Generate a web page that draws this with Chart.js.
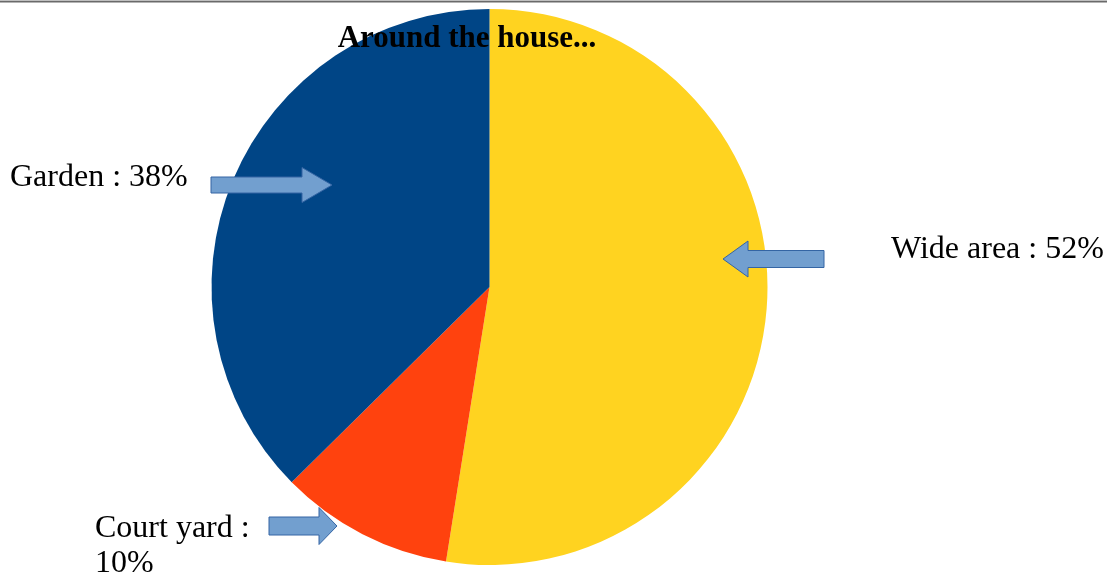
<!DOCTYPE html>
<html>
<head>
<meta charset="utf-8">
<script src="https://cdn.jsdelivr.net/npm/chart.js@4/dist/chart.umd.min.js"></script>
<style>
  html, body { margin: 0; padding: 0; background: #fff; }
  #wrap { width: 1107px; height: 576px; position: relative; }
</style>
</head>
<body>
<div id="wrap"><canvas id="houseChart" width="1107" height="576"></canvas></div>
<script>
// slices, clockwise from 12 o'clock (sizes, labels show rounded %)
const categories = ['Wide area', 'Court yard', 'Garden'];
const shares = [52.5, 10.1, 37.4];
const sliceColors = ['#ffd320', '#ff420e', '#004586'];
const chartTitle = 'Around the house...';

// callout text, one entry per slice (lines)
const calloutLines = [
    ['Wide area : 52%'],
    ['Court yard :', '10%'],
    ['Garden : 38%']
];

// callout placement: text anchor + block arrow (tip, direction)
const callouts = [
    { tx: 891, ty: 258, tipX: 723, tipY: 259, tailX: 824, headLen: 25, bodyH: 17, headH: 36 },
    { tx: 95, ty: 537, tipX: 337, tipY: 526, tailX: 269, headLen: 18, bodyH: 18, headH: 37 },
    { tx: 10, ty: 186, tipX: 332, tipY: 185, tailX: 211, headLen: 30, bodyH: 16, headH: 35 }
];

function blockArrow(ctx, c) {
    const dir = c.tipX > c.tailX ? 1 : -1;
    const baseX = c.tipX - dir * c.headLen;
    ctx.beginPath();
    ctx.moveTo(c.tailX, c.tipY - c.bodyH / 2);
    ctx.lineTo(baseX, c.tipY - c.bodyH / 2);
    ctx.lineTo(baseX, c.tipY - c.headH / 2);
    ctx.lineTo(c.tipX, c.tipY);
    ctx.lineTo(baseX, c.tipY + c.headH / 2);
    ctx.lineTo(baseX, c.tipY + c.bodyH / 2);
    ctx.lineTo(c.tailX, c.tipY + c.bodyH / 2);
    ctx.closePath();
    ctx.fillStyle = '#729fcf';
    ctx.fill();
    ctx.lineWidth = 1;
    ctx.strokeStyle = '#3465a4';
    ctx.stroke();
}

const decorations = {
    id: 'decorations',
    afterDraw(chart) {
        const ctx = chart.ctx;
        ctx.save();
        // frame line along the top
        ctx.fillStyle = '#c0c0c0';
        ctx.fillRect(0, 0, chart.width, 1);
        ctx.fillStyle = '#6a6a6a';
        ctx.fillRect(0, 1, chart.width, 1.5);

        // arrows + labels
        ctx.textBaseline = 'alphabetic';
        ctx.textAlign = 'left';
        ctx.font = '32px "Liberation Serif", "DejaVu Serif", serif';
        callouts.forEach((c, i) => {
            blockArrow(ctx, c);
            ctx.fillStyle = '#000';
            calloutLines[i].forEach((line, j) => {
                ctx.fillText(line, c.tx, c.ty + j * 35);
            });
        });

        // title sits on top of the pie
        ctx.font = 'bold 31px "Liberation Serif", "DejaVu Serif", serif';
        ctx.textAlign = 'center';
        ctx.fillStyle = '#000';
        ctx.fillText(chartTitle, 467, 47);
        ctx.restore();
    }
};

new Chart('houseChart', {
    type: 'pie',
    data: {
        labels: categories,
        datasets: [{
            data: shares,
            backgroundColor: sliceColors,
            borderWidth: 0,
        }]
    },
    options: {
        responsive: false,
        animation: false,
        devicePixelRatio: 1,
        layout: {
            padding: { top: 9, bottom: 11, left: 0, right: 128 }
        },
        plugins: {
            legend: { display: false },
            tooltip: { enabled: false },
            title: { display: false },
        }
    },
    plugins: [decorations]
});
</script>
</body>
</html>
